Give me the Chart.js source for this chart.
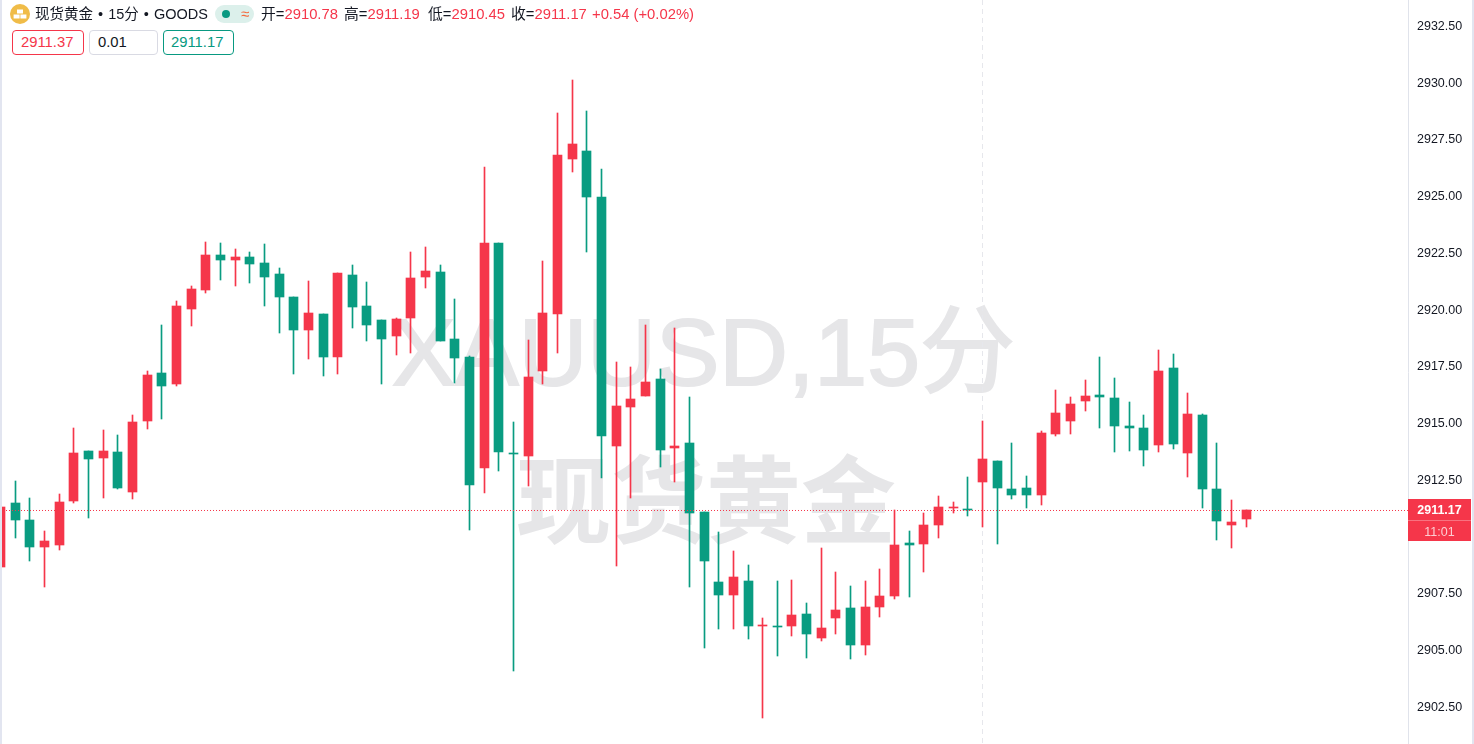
<!DOCTYPE html>
<html lang="zh">
<head>
<meta charset="utf-8">
<title>XAUUSD 15分</title>
<script src="https://cdn.jsdelivr.net/npm/chart.js@4/dist/chart.umd.js"></script>
<style>
html,body{margin:0;padding:0;width:1474px;height:744px;overflow:hidden;background:#fff;}
body{font-family:"Liberation Sans","Noto Sans CJK SC",sans-serif;color:#131722;position:relative;}
#wrap{position:absolute;left:0;top:0;width:1472px;height:744px;}
#c{position:absolute;left:0;top:0;z-index:2;}
.wm{position:absolute;color:#e6e6e8;white-space:nowrap;z-index:1;line-height:1;font-size:95px;}
#side{position:absolute;left:0;top:0;width:2px;height:744px;background:#e2e5f0;z-index:5;}
#edge{position:absolute;left:1472px;top:0;width:2px;height:744px;background:#e2e5f0;z-index:5;}
.t{position:absolute;white-space:nowrap;font-size:14.8px;line-height:18px;z-index:6;}
.r{color:#f5364a;}
.box{position:absolute;top:30px;height:23px;border:1px solid;border-radius:4px;font-size:14.8px;line-height:23px;z-index:6;background:#fff;box-sizing:content-box;}
#pill{position:absolute;left:215px;top:5px;width:39px;height:18px;background:#dcf0eb;border-radius:9px;z-index:6;}
#dot{position:absolute;left:7px;top:5px;width:8px;height:8px;border-radius:50%;background:#089981;}
#wave{position:absolute;left:26px;top:0;font-size:15px;line-height:18px;color:#f4683b;}
#logo{position:absolute;left:10px;top:4px;z-index:6;}
</style>
</head>
<body>
<div class="wm" style="left:392px;top:305px;-webkit-text-stroke:2px #e6e6e8;">XAUUSD,15分</div>
<div class="wm" style="left:516px;top:447px;font-family:'Noto Sans CJK SC';font-weight:700;">现货黄金</div>
<div id="wrap"><canvas id="c" width="1472" height="744"></canvas></div>
<div id="side"></div><div id="edge"></div>
<svg id="logo" width="20" height="20" viewBox="0 0 20 20"><circle cx="10" cy="10" r="10" fill="#f0bc48"/><rect x="7" y="5.5" width="6" height="4" fill="#fff"/><rect x="3.6" y="10.5" width="6" height="4" fill="#fff"/><rect x="10.4" y="10.5" width="6" height="4" fill="#fff"/></svg>
<div class="t" style="left:35px;top:5px;word-spacing:1px;font-size:14.5px;">现货黄金 • 15分 • GOODS</div>
<div id="pill"><div id="dot"></div><div id="wave">≈</div></div>
<div class="t" style="left:261px;top:5px;">开=<span class="r">2910.78</span></div>
<div class="t" style="left:344px;top:5px;">高=<span class="r">2911.19</span></div>
<div class="t" style="left:428px;top:5px;">低=<span class="r">2910.45</span></div>
<div class="t" style="left:511px;top:5px;">收=<span class="r">2911.17</span></div>
<div class="t r" style="left:592px;top:5px;">+0.54 (+0.02%)</div>
<div class="box" style="left:12px;width:62px;padding-left:8px;border-color:#f5364a;color:#f5364a;">2911.37</div>
<div class="box" style="left:89px;width:59px;padding-left:8px;border-color:#d9dae3;color:#131722;">0.01</div>
<div class="box" style="left:163px;width:62px;padding-left:7px;border-color:#089981;color:#089981;">2911.17</div>
<script>
const opens=[2908.68,2911.50,2910.75,2909.57,2909.65,2911.59,2913.79,2913.48,2913.74,2911.98,2915.11,2917.22,2916.74,2920.04,2920.88,2922.42,2922.20,2922.33,2922.07,2921.59,2920.57,2919.12,2919.82,2917.93,2921.54,2920.18,2919.56,2918.86,2919.65,2921.45,2921.67,2918.72,2917.93,2913.04,2922.95,2913.70,2913.57,2917.31,2919.82,2926.65,2927.00,2924.98,2914.01,2915.73,2916.21,2916.96,2913.92,2914.14,2911.10,2908.02,2907.45,2908.06,2906.08,2906.08,2906.08,2906.61,2905.55,2906.43,2906.87,2905.24,2906.92,2907.40,2909.74,2909.69,2910.53,2911.28,2911.23,2912.42,2913.35,2912.11,2912.16,2911.85,2914.54,2915.11,2915.99,2916.26,2916.12,2914.89,2914.80,2914.05,2917.45,2913.70,2915.37,2912.11,2910.53,2910.78];
const highs=[2911.32,2912.47,2911.72,2910.26,2911.89,2914.80,2913.79,2914.71,2914.49,2915.37,2917.31,2919.34,2920.40,2921.06,2923.00,2922.95,2922.69,2922.55,2922.91,2921.85,2920.57,2921.28,2919.82,2921.63,2921.98,2921.23,2919.56,2919.65,2922.55,2922.78,2921.98,2920.48,2917.97,2926.30,2922.95,2915.07,2918.68,2922.16,2928.68,2930.13,2928.77,2926.21,2917.71,2917.49,2919.34,2917.40,2919.21,2916.17,2911.10,2910.22,2909.38,2908.77,2906.43,2908.06,2908.11,2907.09,2909.52,2908.46,2907.84,2908.06,2908.59,2911.19,2910.26,2911.06,2911.81,2911.54,2912.64,2915.11,2913.35,2914.14,2912.69,2914.67,2916.48,2916.17,2916.92,2917.93,2917.00,2915.95,2915.37,2918.24,2918.06,2916.34,2915.42,2914.14,2911.63,2911.19];
const lows=[2908.68,2909.96,2908.94,2907.80,2909.43,2911.50,2910.84,2911.72,2912.11,2911.67,2914.76,2915.20,2916.65,2919.30,2920.75,2921.32,2921.06,2921.19,2920.18,2918.99,2917.18,2917.84,2917.09,2917.18,2919.21,2918.63,2916.74,2918.02,2918.11,2920.97,2918.63,2916.78,2910.31,2911.94,2912.91,2904.10,2912.25,2916.74,2918.11,2926.08,2922.55,2912.60,2908.72,2911.72,2916.21,2913.08,2912.42,2907.80,2905.11,2905.95,2905.95,2905.51,2902.03,2904.76,2905.64,2904.67,2905.42,2905.73,2904.63,2904.80,2906.48,2907.27,2907.36,2908.46,2909.96,2911.06,2910.93,2910.44,2909.69,2911.67,2911.28,2911.41,2914.45,2914.54,2915.55,2914.80,2913.74,2913.79,2913.13,2913.74,2913.88,2912.64,2911.28,2909.87,2909.52,2910.45];
const closes=[2911.32,2910.75,2909.57,2909.82,2911.54,2913.70,2913.44,2913.79,2912.16,2915.07,2917.14,2916.65,2920.18,2920.93,2922.42,2922.20,2922.33,2922.03,2921.45,2920.57,2919.12,2919.87,2917.93,2921.63,2920.13,2919.34,2918.72,2919.60,2921.41,2921.72,2918.63,2917.89,2912.29,2922.95,2913.74,2913.66,2917.05,2919.87,2926.83,2927.31,2924.98,2914.45,2915.77,2916.08,2916.83,2913.83,2914.01,2911.06,2908.94,2907.45,2908.24,2906.08,2906.12,2906.04,2906.56,2905.73,2905.99,2906.78,2905.24,2906.92,2907.40,2909.65,2909.65,2910.53,2911.32,2911.32,2911.19,2913.44,2912.16,2911.85,2911.85,2914.58,2915.46,2915.86,2916.21,2916.17,2914.89,2914.80,2913.83,2917.31,2914.10,2915.42,2912.11,2910.71,2910.66,2911.17];
const lastPrice=2911.17;
const countdown="11:01";
const UP="#f5364a", DOWN="#099c81";
const colors=opens.map((o,i)=>closes[i]>=o?UP:DOWN);
const xMin=-0.0409, xMax=96.035, yMin=2900.883, yMax=2933.659;
const crosshairIndex=67;

const snap={id:"snap",afterDatasetsUpdate(chart){
  chart.getSortedVisibleDatasetMetas().forEach(m=>{
    if(m.type!=="bar")return;
    m.data.forEach(el=>{
      el.x=Math.floor(el.x)+0.5;
      const a=Math.round(Math.min(el.y,el.base));
      const b=Math.max(Math.round(Math.max(el.y,el.base)),a+1);
      el.y=a; el.base=b; el.height=b-a;
    });
  });
}};
const decor={id:"decor",
  beforeDatasetsDraw(chart){
    const {ctx,chartArea,scales:{x}}=chart;
    const px=Math.floor(x.getPixelForValue(crosshairIndex))+0.5;
    ctx.save();ctx.strokeStyle="#e6e7ec";ctx.lineWidth=1;ctx.setLineDash([5,4]);
    ctx.beginPath();ctx.moveTo(px,chartArea.top);ctx.lineTo(px,chartArea.bottom);ctx.stroke();ctx.restore();
  },
  afterDraw(chart){
    const {ctx,scales:{y}}=chart;
    const py=y.getPixelForValue(lastPrice);
    const top=Math.round(py)-11, l=1408, w=63;
    ctx.save();
    ctx.fillStyle=UP;ctx.fillRect(l,top,w,42);
    ctx.fillStyle="rgba(255,255,255,0.3)";ctx.fillRect(l,top+21,w,1);
    ctx.textAlign="center";ctx.textBaseline="middle";
    ctx.fillStyle="#fff";ctx.font='bold 12.5px "Liberation Sans"';
    ctx.fillText(lastPrice.toFixed(2),l+w/2,top+12);
    ctx.fillStyle="rgba(255,255,255,0.75)";ctx.font='12.5px "Liberation Sans"';
    ctx.fillText(countdown,l+w/2,top+33.5);
    ctx.restore();
  }
};
new Chart(document.getElementById("c"),{
  type:"bar",
  data:{datasets:[
    {type:"line",data:[{x:xMin,y:lastPrice},{x:xMax,y:lastPrice}],borderColor:UP,borderWidth:1,borderDash:[1,2],pointRadius:0,fill:false,tension:0},
    {label:"body",data:opens.map((o,i)=>({x:i,y:[o,closes[i]]})),backgroundColor:colors,barThickness:9,grouped:false,borderWidth:0},
    {label:"wick",data:lows.map((l,i)=>({x:i,y:[l,highs[i]]})),backgroundColor:colors,barThickness:1,grouped:false,borderWidth:0}
  ]},
  options:{
    responsive:false,animation:false,events:[],
    layout:{padding:0},
    plugins:{legend:{display:false},tooltip:{enabled:false}},
    scales:{
      x:{type:"linear",min:xMin,max:xMax,display:false,offset:false},
      y:{type:"linear",position:"right",min:yMin,max:yMax,
        grid:{display:false,drawTicks:false},
        border:{display:true,color:"#e0e3eb",width:1},
        afterFit(s){s.width=64;s.paddingTop=0;s.paddingBottom=0;},
        ticks:{stepSize:2.5,includeBounds:false,crossAlign:"near",padding:9,color:"#131722",
          font:{family:'"Liberation Sans"',size:12.5},
          callback:v=>Number(v).toFixed(2)}
      }
    }
  },
  plugins:[snap,decor]
});
</script>
</body>
</html>
